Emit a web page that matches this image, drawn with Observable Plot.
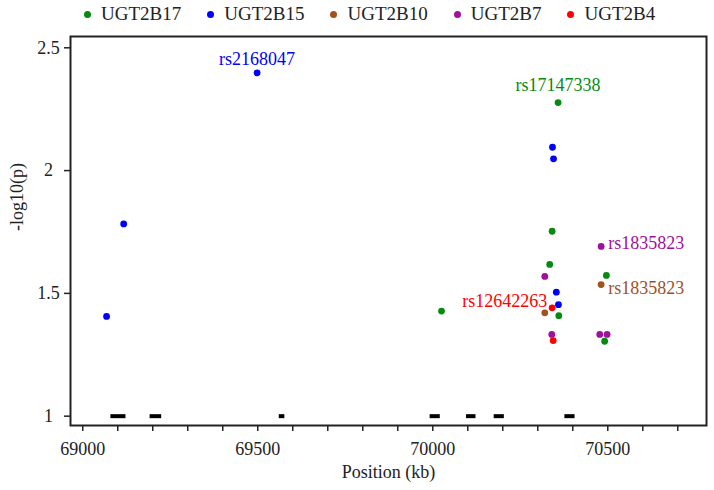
<!DOCTYPE html>
<html>
<head>
<meta charset="utf-8">
<script src="https://cdn.jsdelivr.net/npm/d3@7"></script>
<script src="https://cdn.jsdelivr.net/npm/@observablehq/plot@0.6"></script>
<style>
  html, body { margin: 0; padding: 0; background: #fff; }
  body { width: 714px; font-family: "Liberation Serif", "Times New Roman", serif; }
  #legend { height: 28px; display: flex; align-items: center; padding-left: 84px; font-size: 19px; color: #222; }
  #legend .item { display: flex; align-items: center; margin-right: 26px; }
  #legend .sw { width: 7px; height: 7px; border-radius: 50%; margin-right: 10px; }
</style>
</head>
<body>
<div id="legend"></div>
<div id="chart"></div>
<script>
// Genes and colours
const genes = ["UGT2B17", "UGT2B15", "UGT2B10", "UGT2B7", "UGT2B4"];
const geneColors = ["#068a12", "#0000ff", "#a4501c", "#a0109c", "#ff0000"];

// SNP association results (position in kb, -log10 p)
const snpGene = [
  "UGT2B17", "UGT2B17", "UGT2B17", "UGT2B17", "UGT2B17", "UGT2B17", "UGT2B17",
  "UGT2B15", "UGT2B15", "UGT2B15", "UGT2B15", "UGT2B15", "UGT2B15", "UGT2B15",
  "UGT2B10", "UGT2B10",
  "UGT2B7", "UGT2B7", "UGT2B7", "UGT2B7", "UGT2B7",
  "UGT2B4", "UGT2B4"
];
const snpPos = [
  70025, 70341, 70334, 70360, 70358, 70496, 70491,
  69068, 69117, 69498, 70342, 70345, 70353, 70359,
  70320, 70481,
  70481, 70320, 70340, 70477, 70498,
  70341, 70344
];
const snpLogP = [
  1.428, 1.753, 1.618, 1.409, 2.277, 1.573, 1.305,
  1.406, 1.783, 2.398, 2.095, 2.048, 1.505, 1.454,
  1.421, 1.536,
  1.691, 1.569, 1.333, 1.333, 1.333,
  1.441, 1.308
];

// Labelled SNPs
const labelSnp = ["rs2168047", "rs17147338", "rs1835823", "rs1835823", "rs12642263"];
const labelGene = ["UGT2B15", "UGT2B17", "UGT2B7", "UGT2B10", "UGT2B4"];
const labelPos = [69498, 70358, 70481, 70481, 70341];
const labelLogP = [2.398, 2.277, 1.691, 1.536, 1.441];

// Gene locations (kb), drawn at -log10(p) = 1
const geneStart = [69079, 69191, 69560, 69991, 70095, 70174, 70376];
const geneEnd = [69122, 69224, 69576, 70020, 70122, 70203, 70405];

// Axis ticks
const xMajorTicks = [69000, 69500, 70000, 70500];
const xMinorTicks = [69000, 69100, 69200, 69300, 69400, 69500, 69600, 69700, 69800, 69900,
                     70000, 70100, 70200, 70300, 70400, 70500, 70600, 70700];
const yTicks = [1, 1.5, 2, 2.5];

const snps = snpGene.map((g, i) => ({gene: g, pos: snpPos[i], logp: snpLogP[i]}));
const labels = labelSnp.map((s, i) => ({snp: s, gene: labelGene[i], pos: labelPos[i], logp: labelLogP[i]}));
const segs = geneStart.map((s, i) => ({start: s, end: geneEnd[i]}));
const colorOf = g => geneColors[genes.indexOf(g)];

// Legend
const legend = document.getElementById("legend");
genes.forEach((g, i) => {
  const it = document.createElement("div");
  it.className = "item";
  const sw = document.createElement("span");
  sw.className = "sw";
  sw.style.background = geneColors[i];
  const tx = document.createElement("span");
  tx.textContent = g;
  it.appendChild(sw); it.appendChild(tx);
  legend.appendChild(it);
});

const lab = (i) => labels.filter((d, j) => j === i);

const chart = Plot.plot({
  width: 714,
  height: 462,
  marginTop: 8,
  marginBottom: 65,
  marginLeft: 70,
  marginRight: 8,
  style: {fontFamily: "'Liberation Serif', 'Times New Roman', serif", fontSize: "18px", color: "#222", background: "#fff"},
  x: {domain: [68965, 70782]},
  y: {domain: [0.962, 2.546]},
  color: {domain: genes, range: geneColors},
  marks: [
    Plot.link(segs, {x1: "start", x2: "end", y1: 1, y2: 1, stroke: "#000", strokeWidth: 4}),
    Plot.dot(snps, {x: "pos", y: "logp", fill: "gene", r: 3.4}),
    Plot.text(lab(0), {x: "pos", y: "logp", text: "snp", fill: d => colorOf(d.gene), dy: -14, textAnchor: "middle"}),
    Plot.text(lab(1), {x: "pos", y: "logp", text: "snp", fill: d => colorOf(d.gene), dy: -17, textAnchor: "middle"}),
    Plot.text(lab(2), {x: "pos", y: "logp", text: "snp", fill: d => colorOf(d.gene), dx: 7, dy: -3, textAnchor: "start"}),
    Plot.text(lab(3), {x: "pos", y: "logp", text: "snp", fill: d => colorOf(d.gene), dx: 7, dy: 4, textAnchor: "start"}),
    Plot.text(lab(4), {x: "pos", y: "logp", text: "snp", fill: d => colorOf(d.gene), dx: -5, dy: -7, textAnchor: "end"}),
    Plot.frame({stroke: "#222", strokeWidth: 2}),
    Plot.axisX({ticks: xMinorTicks, tickSize: 6, tickPadding: 11, tickFormat: d => xMajorTicks.includes(d) ? String(d) : "", label: null, strokeWidth: 1.5}),
    Plot.axisY({ticks: yTicks, tickSize: 6, tickPadding: 16, textAnchor: "middle", tickFormat: d => String(d), label: null, strokeWidth: 1.5}),
    Plot.text(["Position (kb)"], {frameAnchor: "bottom", dy: 47, lineAnchor: "middle"}),
    Plot.text(["-log10(p)"], {frameAnchor: "left", dx: -53, rotate: -90, lineAnchor: "middle"})
  ]
});
document.getElementById("chart").appendChild(chart);
</script>
</body>
</html>
